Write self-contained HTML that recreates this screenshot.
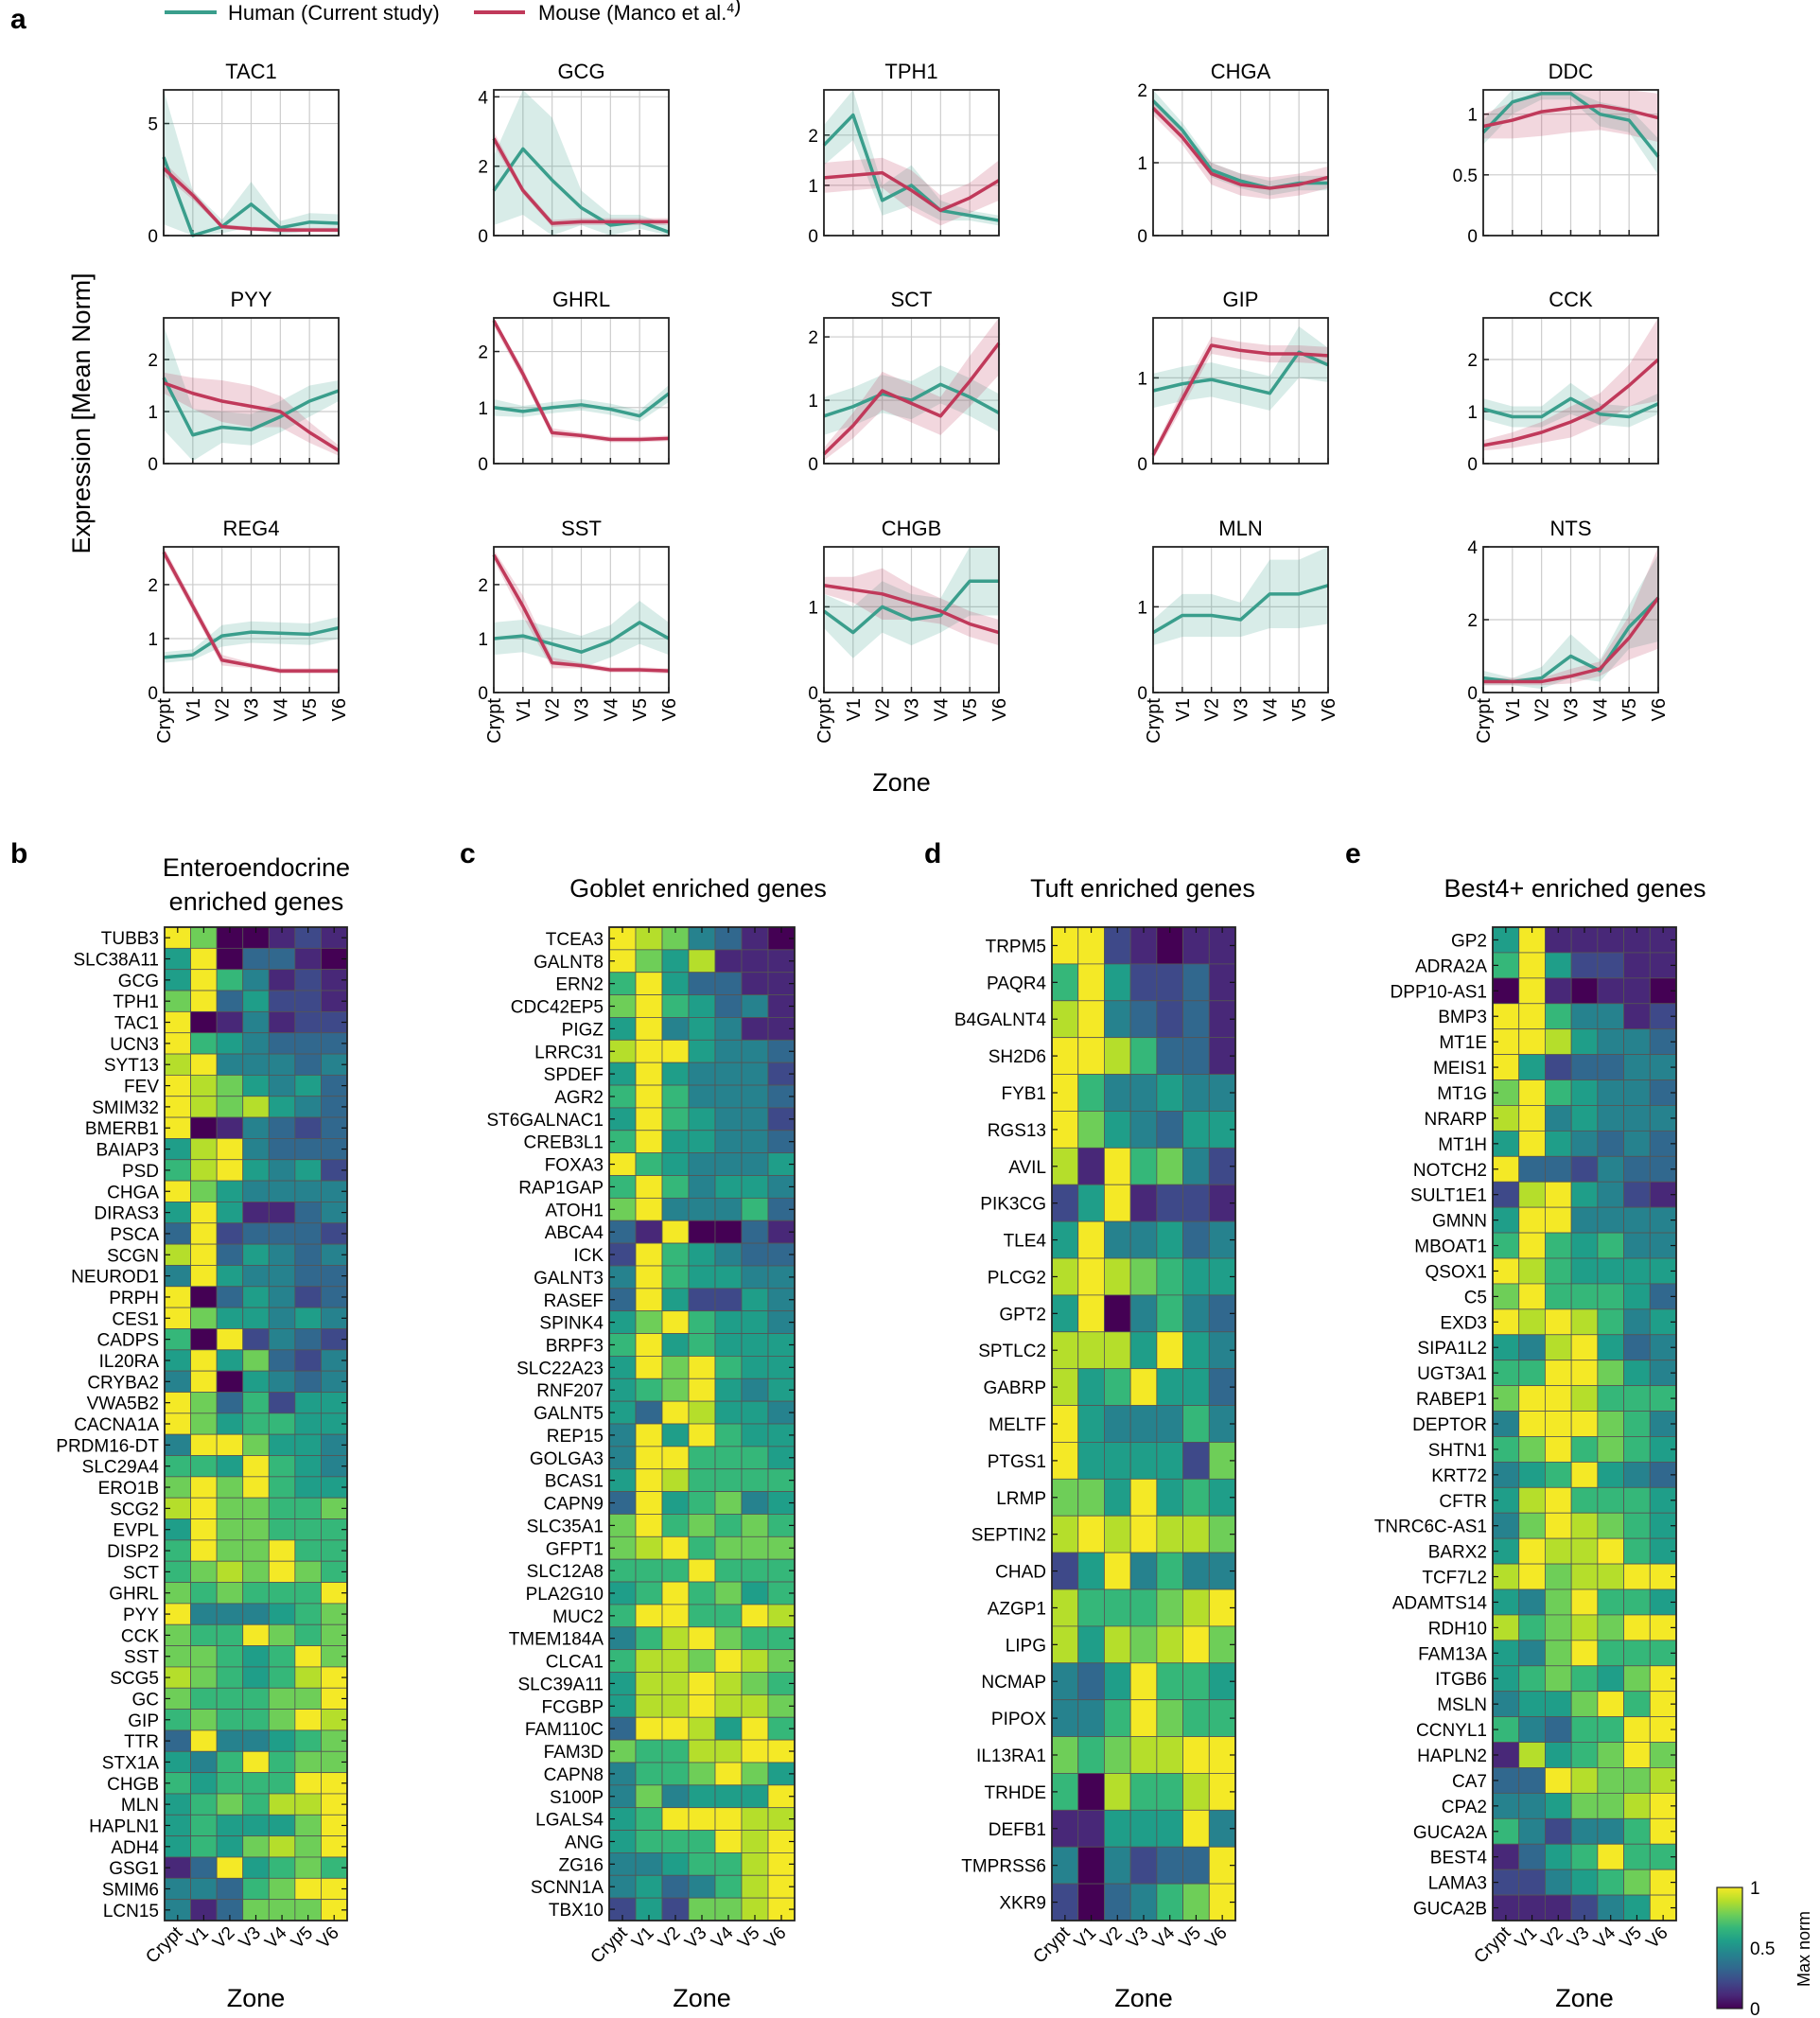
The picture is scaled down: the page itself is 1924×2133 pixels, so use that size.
<!DOCTYPE html>
<html><head><meta charset="utf-8"><style>
html,body{margin:0;padding:0;background:#fff}
svg{display:block;font-family:"Liberation Sans",Arial,sans-serif}
</style></head><body>
<svg id="s" width="1924" height="2133" viewBox="0 0 1924 2133" xmlns="http://www.w3.org/2000/svg"></svg>
<script>
(function(){
const S=document.getElementById('s');let h='';
const V=['#440154','#482878','#3e4989','#31688e','#26828e','#1f9e89','#35b779','#6ece58','#b5de2b','#f4e926'];
const HC='#3a9e8c',MC='#c0395a';
const zones=['Crypt','V1','V2','V3','V4','V5','V6'];
function T(x,y,s,fs,anc,extra){h+=`<text x="${x}" y="${y}" font-size="${fs}" text-anchor="${anc||'start'}" ${extra||''}>${s}</text>`;}
h+=`<line x1="174" y1="13" x2="229" y2="13" stroke="${HC}" stroke-width="4"/>`;T(241,21,'Human (Current study)',22);
h+=`<line x1="501" y1="13" x2="555" y2="13" stroke="${MC}" stroke-width="4"/>`;T(569,21,'Mouse (Manco et al.<tspan font-size="14" dy="-8">4</tspan>)',22);
T(11,30,'a',30,'start','font-weight="bold"');
T(95,437,'Expression [Mean Norm]',27,'middle','transform="rotate(-90 95 437)"');
T(953,836,'Zone',27,'middle');
const cols=[173,522,871,1219,1568],rows=[95,336,578],W=185,H=154;
const P=[
['TAC1',6.5,[0,5],[3.5,0,0.4,1.4,0.35,0.6,0.55],[3,2,.3,1,.3,.4,.4],[3.0,1.8,0.4,0.3,0.25,0.25,0.25],[.3,.2,.1,.1,.1,.1,.1]],
['GCG',4.2,[0,2,4],[1.3,2.5,1.6,0.8,0.3,0.4,0.1],[1,1.9,1.8,.5,.3,.2,.2],[2.8,1.3,0.35,0.4,0.4,0.4,0.4],[.2,.1,.1,.1,.1,.1,.1]],
['TPH1',2.9,[0,1,2],[1.8,2.4,0.7,1.0,0.5,0.4,0.3],[.4,.5,.3,.4,.2,.1,.1],[1.15,1.2,1.25,0.9,0.5,0.75,1.1],[.3,.3,.3,.4,.3,.3,.4]],
['CHGA',2.0,[0,1,2],[1.85,1.45,0.9,0.75,0.65,0.72,0.72],[.15,.1,.1,.1,.1,.1,.1],[1.75,1.35,0.85,0.7,0.65,0.7,0.8],[.1,.1,.15,.15,.15,.15,.15]],
['DDC',1.2,[0,0.5,1],[.85,1.1,1.17,1.17,1.0,0.95,0.65],[.1,.1,.05,.05,.1,.1,.15],[.9,.95,1.02,1.05,1.07,1.03,0.97],[.1,.15,.2,.2,.2,.2,.2]],
['PYY',2.8,[0,1,2],[1.65,.55,.7,.65,.9,1.2,1.4],[1,.5,.3,.3,.3,.3,.2],[1.55,1.35,1.2,1.1,1.0,0.6,0.25],[.2,.3,.4,.4,.3,.2,.1]],
['GHRL',2.6,[0,1,2],[1.0,.93,1.0,1.05,.97,.85,1.25],[.15,.1,.1,.1,.1,.1,.15],[2.55,1.6,.55,.5,.43,.43,.45],[.1,.1,.08,.05,.05,.05,.05]],
['SCT',2.3,[0,1,2],[.75,.9,1.1,1.0,1.25,1.05,.8],[.3,.3,.3,.3,.3,.3,.3],[.15,.6,1.15,.95,.75,1.3,1.9],[.1,.2,.3,.3,.3,.4,.5]],
['GIP',1.7,[0,1],[.85,.93,.98,.9,.82,1.3,1.15],[.2,.2,.2,.2,.2,.3,.2],[.1,.75,1.38,1.32,1.28,1.28,1.26],[.05,.1,.1,.1,.1,.1,.1]],
['CCK',2.8,[0,1,2],[1.05,.9,.9,1.25,.95,.9,1.15],[.2,.2,.2,.3,.2,.2,.2],[.35,.45,.6,.8,1.05,1.5,2.0],[.1,.15,.2,.3,.3,.4,.8]],
['REG4',2.7,[0,1,2],[.65,.7,1.05,1.12,1.1,1.08,1.2],[.1,.1,.2,.2,.2,.2,.2],[2.6,1.6,.6,.5,.4,.4,.4],[.1,.1,.1,.05,.05,.05,.05]],
['SST',2.7,[0,1,2],[1.0,1.05,.9,.75,.95,1.3,1.0],[.3,.3,.3,.3,.3,.4,.3],[2.55,1.6,.55,.5,.42,.42,.4],[.1,.2,.1,.05,.05,.05,.05]],
['CHGB',1.7,[0,1],[.95,.7,1.0,.85,.9,1.3,1.3],[.2,.3,.3,.3,.2,.4,.4],[1.25,1.2,1.15,1.05,.95,.8,.7],[.1,.15,.3,.2,.15,.15,.15]],
['MLN',1.7,[0,1],[.7,.9,.9,.85,1.15,1.15,1.25],[.15,.25,.25,.2,.4,.4,.45],null,null],
['NTS',4.0,[0,2,4],[.4,.3,.4,1.0,.6,1.8,2.6],[.2,.1,.3,.6,.3,.6,1.2],[.3,.3,.3,.45,.65,1.5,2.6],[.1,.1,.1,.2,.2,.6,1.4]]
];
P.forEach((p,i)=>{const x0=cols[i%5],y0=rows[Math.floor(i/5)];const [nm,ym,tk,hu,hb,mo,mb]=p;
 const X=j=>x0+j*W/6,Y=v=>y0+H-Math.max(0,Math.min(ym,v))/ym*H;
 T(x0+W/2,y0-12,nm,22,'middle');
 for(let j=1;j<6;j++)h+=`<line x1="${X(j)}" y1="${y0}" x2="${X(j)}" y2="${y0+H}" stroke="#ccc" stroke-width="1.2"/>`;
 tk.forEach(t=>{if(t>0&&t<ym)h+=`<line x1="${x0}" y1="${Y(t)}" x2="${x0+W}" y2="${Y(t)}" stroke="#ccc" stroke-width="1.2"/>`;
  h+=`<line x1="${x0}" y1="${Y(t)}" x2="${x0+6}" y2="${Y(t)}" stroke="#222" stroke-width="1.5"/>`;T(x0-6,Y(t)+7,t,19,'end');});
 for(let j=0;j<7;j++){h+=`<line x1="${X(j)}" y1="${y0+H}" x2="${X(j)}" y2="${y0+H-6}" stroke="#222" stroke-width="1.5"/>`;}
 const band=(a,b,c)=>{let pts=a.map((v,j)=>X(j)+','+Y(v+b[j])).join(' ')+' '+a.map((v,j)=>[j,v]).reverse().map(([j,v])=>X(j)+','+Y(v-b[j])).join(' ');h+=`<polygon points="${pts}" fill="${c}" fill-opacity="0.2"/>`;};
 const line=(a,c)=>{h+=`<polyline points="${a.map((v,j)=>X(j)+','+Y(v)).join(' ')}" fill="none" stroke="${c}" stroke-width="3.5" stroke-linejoin="round"/>`;};
 band(hu,hb,HC);if(mo)band(mo,mb,MC);line(hu,HC);if(mo)line(mo,MC);
 h+=`<rect x="${x0}" y="${y0}" width="${W}" height="${H}" fill="none" stroke="#222" stroke-width="1.8"/>`;
 if(i>=10)zones.forEach((z,j)=>{T(X(j)+7,y0+H+6,z,20,'end',`transform="rotate(-90 ${X(j)+7} ${y0+H+6})"`);});
});
const HM=[
{x:174,w:193,lab:'b',lx:11,title:['Enteroendocrine','enriched genes'],tx:271,d:`TUBB3 9700121
SLC38A11 5903310
GCG 5964121
TPH1 7935221
TAC1 9014122
UCN3 9654333
SYT13 8944434
FEV 9875453
SMIM32 9878543
BMERB1 9014323
BAIAP3 5894333
PSD 6895452
CHGA 9754444
DIRAS3 5951134
PSCA 3923332
SCGN 8935434
NEUROD1 4954433
PRPH 9035423
CES1 9755454
CADPS 6092432
IL20RA 5957324
CRYBA2 4905434
VWA5B2 9736255
CACNA1A 9756655
PRDM16-DT 4997554
SLC29A4 6659654
ERO1B 7979655
SCG2 8977667
EVPL 5977666
DISP2 6977966
SCT 6787976
GHRL 7676669
PYY 9444567
CCK 7669767
SST 7765697
SCG5 8765689
GC 7666779
GIP 6766798
TTR 3944567
STX1A 5469677
CHGB 6566699
MLN 5676889
HAPLN1 5655579
ADH4 5657879
GSG1 1395676
SMIM6 4436799
LCN15 4137779`},
{x:644,w:196,lab:'c',lx:486,title:['Goblet enriched genes'],tx:738,d:`TCEA3 9874310
GALNT8 9758111
ERN2 6953311
CDC42EP5 7965341
PIGZ 5945411
LRRC31 8995443
SPDEF 5954442
AGR2 6964443
ST6GALNAC1 5965442
CREB3L1 6955443
FOXA3 9654445
RAP1GAP 6964554
ATOH1 7944463
ABCA4 3190031
ICK 2965433
GALNT3 4965544
RASEF 3952254
SPINK4 5796554
BRPF3 6956555
SLC22A23 5979655
RNF207 5679545
GALNT5 5398554
REP15 4959655
GOLGA3 4996665
BCAS1 5986666
CAPN9 3956745
SLC35A1 7967676
GFPT1 7896777
SLC12A8 6669666
PLA2G10 5696756
MUC2 6996698
TMEM184A 4689766
CLCA1 6887987
SLC39A11 5889876
FCGBP 5889887
FAM110C 3998596
FAM3D 7668899
CAPN8 4667975
S100P 4745559
LGALS4 5699988
ANG 5666989
ZG16 4456689
SCNN1A 4534689
TBX10 2527789`},
{x:1112,w:194,lab:'d',lx:977,title:['Tuft enriched genes'],tx:1208,d:`TRPM5 9921011
PAQR4 6952231
B4GALNT4 8943231
SH2D6 9986331
FYB1 9644544
RGS13 9754355
AVIL 8196742
PIK3CG 2591221
TLE4 5944534
PLCG2 8987655
GPT2 5904643
SPTLC2 8885954
GABRP 8569553
MELTF 9544464
PTGS1 9555527
LRMP 7759565
SEPTIN2 8989887
CHAD 2594644
AZGP1 8666789
LIPG 8587897
NCMAP 4359665
PIPOX 4469766
IL13RA1 7678899
TRHDE 6086689
DEFB1 1155594
TMPRSS6 4042339
XKR9 2034679`},
{x:1578,w:194,lab:'e',lx:1422,title:['Best4+ enriched genes'],tx:1665,d:`GP2 5911111
ADRA2A 6952211
DPP10-AS1 0910110
BMP3 9964412
MT1E 9985443
MEIS1 9523344
MT1G 7965443
NRARP 8945444
MT1H 5954343
NOTCH2 9332433
SULT1E1 2895421
GMNN 5994444
MBOAT1 6965644
QSOX1 9865555
C5 7966653
EXD3 9898645
SIPA1L2 5489534
UGT3A1 6699754
RABEP1 7998666
DEPTOR 4999764
SHTN1 6796765
KRT72 4569543
CFTR 5896665
TNRC6C-AS1 4798765
BARX2 5988965
TCF7L2 8978899
ADAMTS14 5479665
RDH10 8678799
FAM13A 5479666
ITGB6 5676579
MSLN 4557969
CCNYL1 6436699
HAPLN2 1856797
CA7 3398778
CPA2 4457789
GUCA2A 6424469
BEST4 1356966
LAMA3 2245679
GUCA2B 1112459`}];
const TOP=980,BOT=2030;
HM.forEach(m=>{const rs=m.d.trim().split('\n').map(l=>l.trim().split(' '));const n=rs.length,ch=(BOT-TOP)/n,cw=m.w/7;
 T(m.lx,912,m.lab,30,'start','font-weight="bold"');
 if(m.title.length==2){T(m.tx,926,m.title[0],27,'middle');T(m.tx,962,m.title[1],27,'middle');}else T(m.tx,948,m.title[0],27,'middle');
 rs.forEach((r,i)=>{const y=TOP+i*ch;for(let j=0;j<7;j++)h+=`<rect x="${m.x+j*cw}" y="${y}" width="${cw}" height="${ch}" fill="${V[+r[1][j]]}" stroke="#555" stroke-width="0.8"/>`;
  T(m.x-6,y+ch/2+7,r[0],19,'end');
  h+=`<line x1="${m.x}" y1="${y+ch/2}" x2="${m.x+6}" y2="${y+ch/2}" stroke="#111" stroke-width="1.2"/><line x1="${m.x+m.w-6}" y1="${y+ch/2}" x2="${m.x+m.w}" y2="${y+ch/2}" stroke="#111" stroke-width="1.2"/>`;});
 h+=`<rect x="${m.x}" y="${TOP}" width="${m.w}" height="${BOT-TOP}" fill="none" stroke="#222" stroke-width="1.8"/>`;
 zones.forEach((z,j)=>{const cx=m.x+(j+.5)*cw;h+=`<line x1="${cx}" y1="${BOT}" x2="${cx}" y2="${BOT-6}" stroke="#111" stroke-width="1.2"/><line x1="${cx}" y1="${TOP}" x2="${cx}" y2="${TOP+6}" stroke="#111" stroke-width="1.2"/>`;
  T(cx+6,BOT+14,z,19,'end',`transform="rotate(-45 ${cx+6} ${BOT+14})"`);});
 T(m.x+m.w/2,2121,'Zone',27,'middle');
});
h+=`<defs><linearGradient id="g" x1="0" y1="1" x2="0" y2="0">${V.map((c,i)=>`<stop offset="${i/9}" stop-color="${c}"/>`).join('')}</linearGradient></defs>`;
h+=`<rect x="1815" y="1995" width="27" height="128" fill="url(#g)" stroke="#222" stroke-width="1.2"/>`;
T(1850,2002,'1',19);T(1850,2066,'0.5',19);T(1850,2130,'0',19);
T(1913,2060,'Max norm',18,'middle','transform="rotate(-90 1913 2060)"');
S.innerHTML=h;
})();
</script>
</body></html>
